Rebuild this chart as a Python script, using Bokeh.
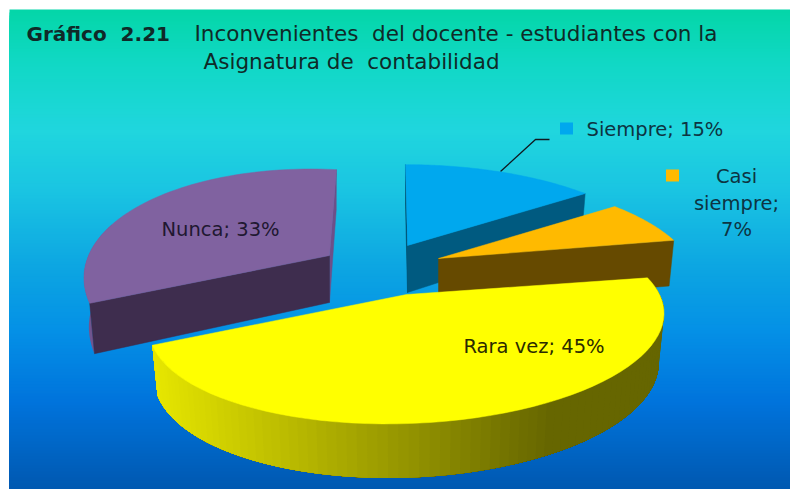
import math
from bokeh.plotting import figure
from bokeh.models import Range1d
from bokeh.core.properties import value
from bokeh.embed import file_html
from bokeh.resources import INLINE

categories = ["Siempre", "Casi siempre", "Rara vez", "Nunca"]
percent = [15, 7, 45, 33]
title_bold = "Gráfico\u00a0\u00a02.21"
title_line1 = "Inconvenientes\u00a0\u00a0del docente - estudiantes con la"
title_line2 = "Asignatura de\u00a0\u00a0contabilidad"

top_colors = ["#00a8ee", "#ffba00", "#ffff00", "#8062a0"]
front_colors = ["#005a80", "#664a00", "#666600", "#3e2d4e"]
W, H = 790, 489

bg_stops = [(9, (4, 214, 168)), (60, (16, 216, 196)), (130, (32, 214, 222)), (190, (26, 196, 226)),
            (270, (12, 164, 226)), (330, (4, 144, 230)), (400, (0, 116, 220)), (489, (0, 88, 176))]

# projection of the tilted disc
R, K, P = 255.0, 97.0, 0.26
# apex x, apex y, x-scale, y-scale, shear, y-per-x tilt, angular nudge (degrees)
slice_layout = [(407, 245, 1.0, 1.05, 0.025, 0.0, 0.0),
                (438, 258, 0.985, 1.05, 0.0, 0.0, 0.0),
                (406, 294, 0.975, 0.985, 0.0, -0.03, 5.0),
                (329, 255, 0.92, 1.115, -0.08, 0.05, 0.0)]


def proj(theta, lay):
    ax, ay, sx, sy, sh, tilt, nudge = lay
    th = theta + math.radians(nudge)
    X, Y = math.sin(th), -math.cos(th)
    d = 1 - P * Y
    px, py = R * X / d * sx, K * Y / d * sy
    return ax + px + sh * py, ay + py + tilt * px, Y


def lower(x, y, Y, lay):
    return lay[0] + 0.98 * (x - lay[0]), y + 47 + 7 * Y


def lerp(stops, y):
    if y <= stops[0][0]:
        return stops[0][1]
    for (a, ca), (b, cb) in zip(stops, stops[1:]):
        if y <= b:
            t = (y - a) / (b - a)
            return tuple(round(u + (v - u) * t) for u, v in zip(ca, cb))
    return stops[-1][1]


def hexc(c):
    return "#%02x%02x%02x" % tuple(c)


p = figure(width=W, height=H, x_range=Range1d(0, W), y_range=Range1d(H, 0),
           toolbar_location=None, output_backend="svg", min_border=0)
p.axis.visible = False
p.grid.visible = False
p.outline_line_color = None
p.background_fill_color = "#ffffff"
p.border_fill_color = "#ffffff"

# background: bands overlap downward, so no seams appear
ys = list(range(9, 489, 3))
p.quad(left=9, right=W, top=ys, bottom=H,
       fill_color=[hexc(lerp(bg_stops, y + 1)) for y in ys], line_color=None)

# angles from the data
angles = []
cum = 0.0
total = sum(percent)
for v in percent:
    a0 = cum / total * 2 * math.pi
    cum += v
    angles.append((a0, cum / total * 2 * math.pi))


def arc(i, n=60):
    a0, a1 = angles[i]
    return [proj(a0 + (a1 - a0) * k / n, slice_layout[i]) for k in range(n + 1)]


def face(i, theta):
    lay = slice_layout[i]
    x, y, Y = proj(theta, lay)
    xb, yb = lower(x, y, Y, lay)
    ax, ay = lay[0], lay[1]
    axb, ayb = lower(ax, ay, 0, lay)
    return [ax, x, xb, axb], [ay, y, yb, ayb]


def top(i, color):
    pts = arc(i)
    lay = slice_layout[i]
    p.patch([lay[0]] + [q[0] for q in pts], [lay[1]] + [q[1] for q in pts],
            fill_color=color, line_color=color, line_width=0.5)


def side(i, colorfn, a_from=None, a_to=None, n=50):
    # each band reaches to the end of the arc and the next one paints over it
    lay = slice_layout[i]
    a0, a1 = angles[i]
    a_from = a0 if a_from is None else a_from
    a_to = a1 if a_to is None else a_to
    xs, yy, cs = [], [], []
    m = max(n, 40)
    for k in range(n):
        start = a_from + (a_to - a_from) * k / n
        steps = [start + (a_to - start) * j / m for j in range(m + 1)]
        top_pts = [proj(t, lay) for t in steps]
        bot_pts = [lower(q[0], q[1], q[2], lay) for q in top_pts]
        xs.append([q[0] for q in top_pts] + [q[0] for q in reversed(bot_pts)])
        yy.append([q[1] for q in top_pts] + [q[1] for q in reversed(bot_pts)])
        cs.append(colorfn(top_pts[0][0]))
    p.patches(xs, yy, fill_color=cs, line_color=None)


# leader line
p.line([500, 535, 549], [171, 139, 139], line_color="#101820", line_width=1.3)

# Siempre
fx, fy = face(0, angles[0][0])
p.patch(fx, fy, fill_color="#00405c", line_color="#00405c", line_width=0.5)
fx, fy = face(0, angles[0][1])
p.patch(fx, fy, fill_color=front_colors[0], line_color=front_colors[0], line_width=0.5)
top(0, top_colors[0])

# Casi siempre
fx, fy = face(1, angles[1][1])
p.patch(fx, fy, fill_color=front_colors[1], line_color=front_colors[1], line_width=0.5)
top(1, top_colors[1])

# Nunca
fx, fy = face(3, angles[3][1])
p.patch(fx, fy, fill_color="#6d5089", line_color="#6d5089", line_width=0.5)
side(3, lambda x: "#70558f", None, angles[3][0] + 0.7, n=1)
fx, fy = face(3, angles[3][0])
p.patch(fx, fy, fill_color=front_colors[3], line_color=front_colors[3], line_width=0.5)
top(3, top_colors[3])


# Rara vez
def yellow_shade(x):
    t = min(1.0, max(0.0, (x - 155) / 400))
    c = 230 + (102 - 230) * t
    return hexc((round(c), round(c), 0))


side(2, yellow_shade, n=90)
top(2, top_colors[2])

# legend keys inside labels
key_x = [566, 672, 443, 140]
key_y = [128, 175, 345, 229]
p.rect(key_x, key_y, width=13, height=12, fill_color=top_colors, line_color=None)

# titles
title_font = value("DejaVu Sans")
p.text([26], [33], text=[title_bold], text_font=title_font, text_font_style="bold",
       text_font_size="20px", text_color="#0f2a28", text_baseline="middle")
p.text([194], [33], text=[title_line1], text_font=title_font,
       text_font_size="21.5px", text_color="#0f2a28", text_baseline="middle")
p.text([203], [61], text=[title_line2], text_font=title_font,
       text_font_size="21.5px", text_color="#0f2a28", text_baseline="middle")

# labels
lab = [f"{c}; {v}%" for c, v in zip(categories, percent)]
label_font = value("DejaVu Sans")
size = "19.5px"
p.text([586], [129], text=[lab[0]], text_font=label_font, text_font_size=size,
       text_color="#0d3442", text_baseline="middle")
casi = categories[1].split(" ")
p.text([736, 736, 736], [176, 203, 229], text=[casi[0], casi[1] + ";", f"{percent[1]}%"],
       text_font=label_font, text_font_size=size, text_color="#0d3442",
       text_align="center", text_baseline="middle")
p.text([463], [346], text=[lab[2]], text_font=label_font, text_font_size=size,
       text_color="#2a2a00", text_baseline="middle")
p.text([161], [229], text=[lab[3]], text_font=label_font, text_font_size=size,
       text_color="#201830", text_baseline="middle")

open("out.html", "w").write(file_html(p, INLINE))
